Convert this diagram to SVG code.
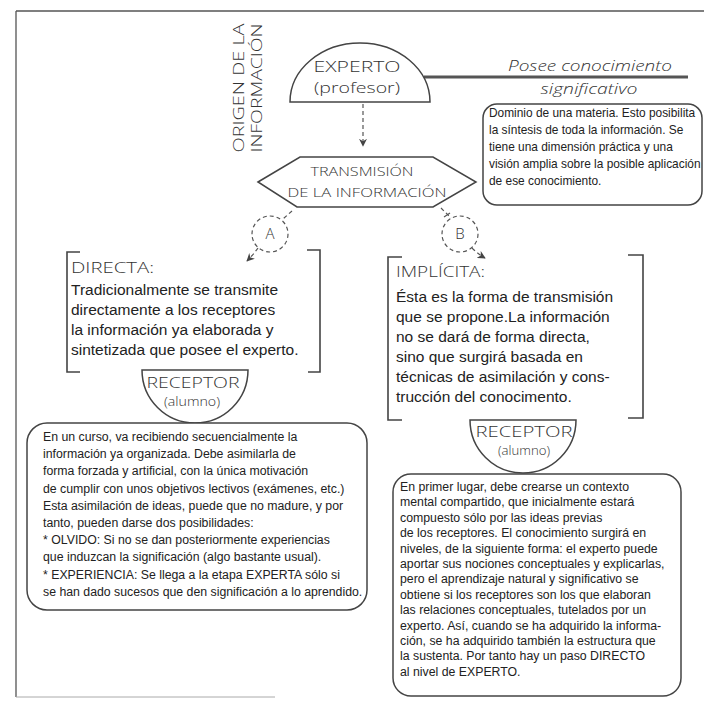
<svg xmlns="http://www.w3.org/2000/svg" width="704" height="713" viewBox="0 0 704 713">
<defs>
<style>
.hand{font-family:"Open Sans","DejaVu Sans",sans-serif;font-weight:300;fill:#333;}
.body{font-family:"Liberation Sans",Arial,sans-serif;fill:#222;}
.shape{fill:#fff;stroke:#444;stroke-width:1.5;}
.br{fill:none;stroke:#444;stroke-width:1.6;}
.dash{fill:none;stroke:#555;stroke-width:1.2;stroke-dasharray:4 3;}
.frame{fill:none;stroke:#555;stroke-width:1.3;}
</style>
<marker id="ah" viewBox="0 0 10 10" refX="9" refY="5" markerWidth="8" markerHeight="8" orient="auto" markerUnits="userSpaceOnUse">
<path d="M0,0 L10,5 L0,10 L3,5 z" fill="#444"/>
</marker>
</defs>
<rect width="704" height="713" fill="#fff"/>
<g id="frame">
<path class="frame" d="M16,11 L704,11 M16,11 L16,697"/>
<path d="M16,697 L275,697" stroke="#aaa" stroke-width="1" fill="none"/>
</g>
<g id="origen-label">
<text class="hand" font-size="14.5" text-anchor="middle" textLength="129" lengthAdjust="spacingAndGlyphs" transform="translate(244,88) rotate(-90)">ORIGEN DE LA</text>
<text class="hand" font-size="14.5" text-anchor="middle" textLength="129" lengthAdjust="spacingAndGlyphs" transform="translate(262,88) rotate(-90)">INFORMACIÓN</text>
</g>
<g id="connectors">
<path d="M424,77 L688,77" stroke="#555" stroke-width="3" fill="none"/>
<path class="dash" d="M363,104 L363,146" marker-end="url(#ah)"/>
<path class="dash" d="M292,211 L283,219"/>
<circle class="dash" cx="270" cy="234" r="18"/>
<path class="dash" d="M258,248 Q253,255 247,261" marker-end="url(#ah)"/>
<path class="dash" d="M441,208 L451,218"/>
<path d="M444,217 L450,213" stroke="#555" stroke-width="1.2"/>
<circle class="dash" cx="460" cy="234" r="18"/>
<path class="dash" d="M472,248 Q478,254 485,258" marker-end="url(#ah)"/>
</g>
<g id="experto">
<path class="shape" d="M290,102 A70,59 0 0 1 430,102 Z"/>
<text class="hand" x="357" y="72" font-size="14" text-anchor="middle" textLength="87" lengthAdjust="spacingAndGlyphs">EXPERTO</text>
<text class="hand" x="357" y="93" font-size="14" text-anchor="middle" textLength="86" lengthAdjust="spacingAndGlyphs">(profesor)</text>
</g>
<g id="posee">
<text class="hand" x="590" y="71" font-size="14" font-style="italic" text-anchor="middle" textLength="164" lengthAdjust="spacingAndGlyphs">Posee conocimiento</text>
<text class="hand" x="589" y="94" font-size="14" font-style="italic" text-anchor="middle" textLength="97" lengthAdjust="spacingAndGlyphs">significativo</text>
</g>
<g id="dominio">
<rect class="shape" x="483" y="104" width="219" height="101" rx="14"/>
<text class="body" font-size="11.9">
<tspan x="489" y="117">Dominio de una materia. Esto posibilita</tspan>
<tspan x="489" y="134">la síntesis de toda la información. Se</tspan>
<tspan x="489" y="151">tiene una dimensión práctica y una</tspan>
<tspan x="489" y="168">visión amplia sobre la posible aplicación</tspan>
<tspan x="489" y="185">de ese conocimiento.</tspan>
</text>
</g>
<g id="transmision">
<path class="shape" d="M258,182 L300,157 L433,157 L476,182 L433,207 L297,207 Z"/>
<text class="hand" x="362" y="176" font-size="13.5" text-anchor="middle" textLength="103" lengthAdjust="spacingAndGlyphs">TRANSMISIÓN</text>
<text class="hand" x="367" y="197" font-size="13.5" text-anchor="middle" textLength="159" lengthAdjust="spacingAndGlyphs">DE LA INFORMACIÓN</text>
</g>
<g id="A">
<text class="hand" x="270" y="239" font-size="15" text-anchor="middle">A</text>
</g>
<g id="B">
<text class="hand" x="460" y="239" font-size="15" text-anchor="middle">B</text>
</g>
<g id="directa">
<path class="br" d="M80,252 L67,252 L67,372 L80,372"/>
<path class="br" d="M307,250 L320,250 L320,372 L308,372"/>
<text class="hand" x="71" y="273" font-size="14" textLength="83" lengthAdjust="spacingAndGlyphs">DIRECTA:</text>
<text class="body" font-size="15.5">
<tspan x="71" y="295">Tradicionalmente se transmite</tspan>
<tspan x="71" y="315">directamente a los receptores</tspan>
<tspan x="71" y="335">la información ya elaborada y</tspan>
<tspan x="71" y="355">sintetizada que posee el experto.</tspan>
</text>
</g>
<g id="receptor-a">
<path class="shape" d="M142,370 L248,370 A53,53 0 0 1 142,370 Z"/>
<text class="hand" x="193" y="388" font-size="14" text-anchor="middle" textLength="93" lengthAdjust="spacingAndGlyphs">RECEPTOR</text>
<text class="hand" x="192" y="406" font-size="13" text-anchor="middle" textLength="56" lengthAdjust="spacingAndGlyphs">(alumno)</text>
</g>
<g id="directa-nota">
<rect class="shape" x="27" y="423" width="340" height="187" rx="20"/>
<text class="body" font-size="12.3">
<tspan x="43" y="441">En un curso, va recibiendo secuencialmente la</tspan>
<tspan x="43" y="458.2">información ya organizada. Debe asimilarla de</tspan>
<tspan x="43" y="475.4">forma forzada y artificial, con la única motivación</tspan>
<tspan x="43" y="492.6">de cumplir con unos objetivos lectivos (exámenes, etc.)</tspan>
<tspan x="43" y="509.8">Esta asimilación de ideas, puede que no madure, y por</tspan>
<tspan x="43" y="527">tanto, pueden darse dos posibilidades:</tspan>
<tspan x="43" y="544.2">* OLVIDO: Si no se dan posteriormente experiencias</tspan>
<tspan x="43" y="561.4">que induzcan la significación (algo bastante usual).</tspan>
<tspan x="43" y="578.6">* EXPERIENCIA: Se llega a la etapa EXPERTA sólo si</tspan>
<tspan x="43" y="595.8">se han dado sucesos que den significación a lo aprendido.</tspan>
</text>
</g>
<g id="implicita">
<path class="br" d="M402,257 L388,257 L388,420 L402,420"/>
<path class="br" d="M628,255 L643,255 L643,418 L628,418"/>
<text class="hand" x="396" y="277" font-size="14" textLength="89" lengthAdjust="spacingAndGlyphs">IMPLÍCITA:</text>
<text class="body" font-size="15.5">
<tspan x="396" y="302">Ésta es la forma de transmisión</tspan>
<tspan x="396" y="322">que se propone.La información</tspan>
<tspan x="396" y="342">no se dará de forma directa,</tspan>
<tspan x="396" y="362">sino que surgirá basada en</tspan>
<tspan x="396" y="382">técnicas de asimilación y cons-</tspan>
<tspan x="396" y="402">trucción del conocimento.</tspan>
</text>
</g>
<g id="receptor-b">
<path class="shape" d="M470,420 L576,420 A53,53 0 0 1 470,420 Z"/>
<text class="hand" x="524" y="437" font-size="14" text-anchor="middle" textLength="97" lengthAdjust="spacingAndGlyphs">RECEPTOR</text>
<text class="hand" x="524" y="455" font-size="13" text-anchor="middle" textLength="52" lengthAdjust="spacingAndGlyphs">(alumno)</text>
</g>
<g id="implicita-nota">
<rect class="shape" x="393" y="474" width="288" height="222" rx="18"/>
<text class="body" font-size="12.3">
<tspan x="400" y="491">En primer lugar, debe crearse un contexto</tspan>
<tspan x="400" y="506.4">mental compartido, que inicialmente estará</tspan>
<tspan x="400" y="521.8">compuesto sólo por las ideas previas</tspan>
<tspan x="400" y="537.2">de los receptores. El conocimiento surgirá en</tspan>
<tspan x="400" y="552.6">niveles, de la siguiente forma: el experto puede</tspan>
<tspan x="400" y="568">aportar sus nociones conceptuales y explicarlas,</tspan>
<tspan x="400" y="583.4">pero el aprendizaje natural y significativo se</tspan>
<tspan x="400" y="598.8">obtiene si los receptores son los que elaboran</tspan>
<tspan x="400" y="614.2">las relaciones conceptuales, tutelados por un</tspan>
<tspan x="400" y="629.6">experto. Así, cuando se ha adquirido la informa-</tspan>
<tspan x="400" y="645">ción, se ha adquirido también la estructura que</tspan>
<tspan x="400" y="660.4">la sustenta. Por tanto hay un paso DIRECTO</tspan>
<tspan x="400" y="675.8">al nivel de EXPERTO.</tspan>
</text>
</g>
</svg>
